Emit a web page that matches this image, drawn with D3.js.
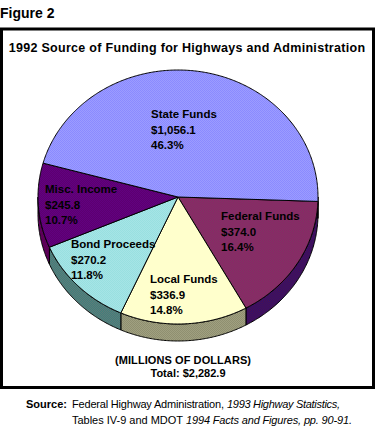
<!DOCTYPE html>
<html>
<head>
<meta charset="utf-8">
<script src="https://cdn.jsdelivr.net/npm/d3@7"></script>
<style>
body { margin: 0; background: #fff; }
svg { display: block; }
text { font-family: "Liberation Sans", Arial, sans-serif; fill: #000; }
.lab { font-size: 11.5px; font-weight: bold; }
</style>
</head>
<body>
<svg id="chart" width="375" height="438"></svg>
<script>
// values in millions of dollars, clockwise from the right hand side
const categories = ['Federal Funds', 'Local Funds', 'Bond Proceeds', 'Misc. Income', 'State Funds']
const amounts = [374.0, 336.9, 270.2, 245.8, 1056.1]
const amountLabels = ['$374.0', '$336.9', '$270.2', '$245.8', '$1,056.1']
const percentLabels = ['16.4%', '14.8%', '11.8%', '10.7%', '46.3%']

const topColors = [['#8f2068', '#7c3a62'], ['#ffffcc', '#ffffcc'], ['#98e0e0', '#a6e4e6'], ['#620080', '#5c0070'], ['#8a8aff', '#9c9cff']]
const wallColors = [['#4c1050', '#30106c'], ['#8f8f70', '#a0a080'], ['#5f7a78', '#40807c'], ['#480070', '#700040'], ['#30106c', '#400070']]
const labelX = [221, 150, 71, 45, 151]
const labelY = [220, 283, 248, 193, 118]

const cx = 178, cy = 197, rx = 140, ry = 127, depth = 17

const svg = d3.select('#chart')
const defs = svg.append('defs')

// checker of single pixels, like the old 256 colour dither
function dither(id, c) {
	const p = defs.append('pattern').attr('id', id)
		.attr('width', 4).attr('height', 4)
		.attr('patternUnits', 'userSpaceOnUse')
	d3.range(16).forEach(k => {
		const col = k % 4, row = Math.floor(k / 4)
		p.append('rect').attr('x', col).attr('y', row)
			.attr('width', 1).attr('height', 1)
			.attr('shape-rendering', 'crispEdges')
			.attr('fill', c[(col + row) % 2])
	})
}
topColors.forEach((c, i) => dither('top' + i, c))
wallColors.forEach((c, i) => dither('wall' + i, c))

svg.append('text').attr('x', 0).attr('y', 18)
	.style('font-size', '14px').style('font-weight', 'bold').text('Figure 2')

svg.append('rect').attr('x', 1.5).attr('y', 29).attr('width', 372).attr('height', 358.5)
	.attr('fill', '#fff').attr('stroke', '#000').attr('stroke-width', 3)

svg.append('text').attr('x', 187).attr('y', 52).attr('text-anchor', 'middle')
	.style('font-size', '12.5px').style('font-weight', 'bold').style('letter-spacing', '0.3px')
	.text('1992 Source of Funding for Highways and Administration')

const pie = d3.pie().sort(null)
	.startAngle(92 * Math.PI / 180)
	.endAngle((92 + 360) * Math.PI / 180)
const slices = pie(amounts)

// side wall, only the front half of the ellipse can be seen
const px = t => cx + rx * Math.sin(t)
const py = t => cy - ry * Math.cos(t)
const wall = d3.area().x(px).y0(py).y1(t => py(t) + depth)

function wallAngles(d) {
	const a = Math.max(d.startAngle, Math.PI / 2)
	const b = Math.min(d.endAngle, 3 * Math.PI / 2)
	if (a >= b) {
		// state funds wraps past the full turn
		const a2 = Math.max(d.startAngle - 2 * Math.PI, Math.PI / 2)
		const b2 = Math.min(d.endAngle - 2 * Math.PI, 3 * Math.PI / 2)
		return a2 < b2 ? d3.range(a2, b2, 0.01).concat(b2) : []
	}
	return d3.range(a, b, 0.01).concat(b)
}

svg.append('g').selectAll('path')
	.data(slices)
	.join('path')
	.attr('d', d => wall(wallAngles(d)))
	.attr('fill', (d, i) => `url(#wall${i})`)
	.attr('stroke', '#000')
	.attr('stroke-width', 1)

// fill through a scaled group would scale the dither too, so fill and
// outline are both drawn from sampled points on the ellipse
const face = d => {
	const ts = d3.range(d.startAngle, d.endAngle, 0.01).concat(d.endAngle)
	return d3.line()(ts.map(t => [px(t), py(t)]).concat([[cx, cy]])) + 'Z'
}

svg.append('g').selectAll('path')
	.data(slices)
	.join('path')
	.attr('d', face)
	.attr('fill', (d, i) => `url(#top${i})`)
	.attr('stroke', '#000')
	.attr('stroke-width', 1)

const labels = svg.append('g').selectAll('text')
	.data(categories)
	.join('text')
	.attr('class', 'lab')
	.attr('x', (d, i) => labelX[i])
	.attr('y', (d, i) => labelY[i])

labels.append('tspan').text(d => d)
labels.append('tspan').attr('x', (d, i) => labelX[i]).attr('dy', 15.5).text((d, i) => amountLabels[i])
labels.append('tspan').attr('x', (d, i) => labelX[i]).attr('dy', 15.5).text((d, i) => percentLabels[i])

svg.append('text').attr('x', 115).attr('y', 364)
	.attr('textLength', 136)
	.style('font-size', '11px').style('font-weight', 'bold')
	.text('(MILLIONS OF DOLLARS)')
svg.append('text').attr('x', 188).attr('y', 377).attr('text-anchor', 'middle')
	.style('font-size', '11px').style('font-weight', 'bold')
	.text('Total:  $2,282.9')

const src = svg.append('g').style('font-size', '11px')
src.append('text').attr('x', 26).attr('y', 408)
	.style('font-weight', 'bold').text('Source:')
src.append('text').attr('x', 72).attr('y', 408).attr('textLength', 152)
	.text('Federal Highway Administration,')
src.append('text').attr('x', 227).attr('y', 408).attr('textLength', 113)
	.style('font-style', 'italic').text('1993 Highway Statistics,')
src.append('text').attr('x', 72).attr('y', 424).attr('textLength', 111)
	.text('Tables IV-9 and MDOT')
src.append('text').attr('x', 186).attr('y', 424).attr('textLength', 166)
	.style('font-style', 'italic').text('1994 Facts and Figures, pp. 90-91.')
</script>
</body>
</html>
